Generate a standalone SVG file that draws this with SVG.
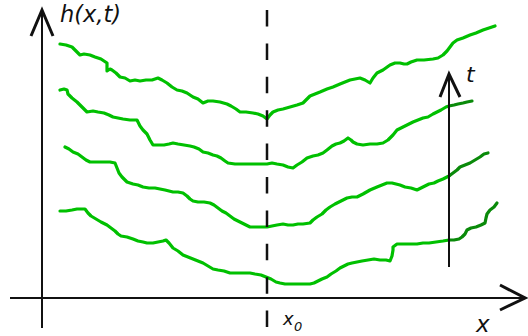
<svg xmlns="http://www.w3.org/2000/svg" width="528" height="336" viewBox="0 0 528 336">
<style>
.ax{stroke:#111;stroke-width:2;fill:none}
.ah{stroke:#111;stroke-width:3;fill:none;stroke-linecap:butt;stroke-linejoin:miter}
.cv{stroke:#00c000;stroke-width:3.2;fill:none;stroke-linejoin:round;stroke-linecap:round}
.dk{stroke:#0a8a0a;stroke-width:3.2;fill:none;stroke-linejoin:round;stroke-linecap:round}
.lb{font-family:"DejaVu Sans",Verdana,sans-serif;font-style:italic;fill:#111}
</style>
<rect width="528" height="336" fill="#fff"/>
<g id="curves">
<polyline class="cv" points="60,44 66,45 72,47 75,50 77,52 80,55 84,54 90,55 95,57 101,59 104,61 107,63 107,71 110,69 112,70 116,73 120,77 125,78 130,81 135,80 140,81 146,80 152,80 158,78 162,80 167,83 172,87 177,90 182,91 187,93 190,95 193,97 198,99 203,103 208,101 213,101 220,102 227,104 231,106 236,109 240,112 246,112 253,113 258,114 263,116 267,119 270,115 273,112 278,110 283,109 290,107 297,105 303,103 307,99 310,96 315,94 320,92 327,89 333,87 340,84 345,82 350,80 355,79 360,78 365,80 370,83 373,78 377,73 383,70 390,65 395,63 400,63 404,64 407,64 411,62 417,60 424,60 433,59 438,58 443,55 447,51 450,47 453,43 457,40 463,38 470,35 476,33 483,30 489,28 495,26"/>
<polyline class="cv" points="60,90 64,89 67,90 68,94 72,98 77,102 82,107 87,112 93,111 98,112 104,113 109,115 113,117 118,118 123,119 130,120 137,120 140,126 143,130 147,134 150,140 153,145 158,145 164,145 169,144 173,143 178,144 184,145 190,146 194,147 199,149 203,152 208,153 213,155 217,156 221,158 225,161 228,163 235,164 241,164 247,164 253,164 260,164 267,164 272,163 277,164 283,165 288,167 293,168 297,165 302,162 307,158 313,156 318,155 323,153 327,150 332,146 336,144 340,143 344,141 348,138 351,140 353,142 357,144 363,145 370,144 377,144 383,143 388,140 393,135 397,130 401,128 407,125 413,122 418,120 423,118 428,117 433,114 437,112 441,110 446,107 449,106"/>
<polyline class="dk" points="449,106 454,105 458,104 463,103 467,102 472,101"/>
<polyline class="cv" points="65,147 69,149 73,152 78,154 82,157 86,160 90,162 95,162 100,162 105,162 110,162 115,163 117,168 119,173 122,177 127,182 133,184 138,185 143,187 149,188 155,188 160,189 165,190 169,191 173,192 178,192 183,193 187,196 190,199 193,201 198,202 204,202 210,203 214,205 218,208 222,211 226,213 230,216 234,219 238,221 242,223 246,225 250,227 255,227 261,227 267,227 272,226 277,225 283,224 288,225 293,225 298,224 303,224 310,223 313,220 317,217 322,214 326,210 330,207 335,204 341,201 347,198 352,197 357,197 363,194 370,190 377,187 382,185 387,183 392,183 396,184 400,185 405,187 411,188 417,190 421,188 425,186 429,184 434,183 438,181 443,179 449,176"/>
<polyline class="dk" points="449,176 453,173 457,170 460,167 465,165 470,163 475,160 480,157 484,154 488,153"/>
<polyline class="cv" points="60,211 66,211 72,210 77,209 81,209 85,209 88,213 91,216 96,219 101,222 107,225 111,228 115,231 118,234 121,236 127,237 133,239 138,241 143,242 147,243 153,243 158,242 163,241 166,240 169,243 173,248 178,251 183,255 188,257 193,259 198,261 203,263 208,266 213,269 218,270 224,271 230,273 236,273 243,273 250,273 255,274 261,275 266,277 271,279 276,282 280,283 285,284 291,284 297,284 303,284 310,284 314,283 318,281 322,279 327,277 331,274 336,271 340,268 344,266 348,264 352,263 357,262 362,261 368,260 374,259 380,260 386,260 390,261 392,256 393,250 393,247 397,244 403,244 410,244 417,244 423,243 429,243 436,242 443,241 449,240"/>
<polyline class="dk" points="449,240 454,240 459,239 462,237 465,234 467,230 471,228 476,227 481,225 485,223 486,218 487,214 490,210 494,207 497,203"/>
</g>
<g id="connectors">
<line class="ax" x1="42" y1="328" x2="42" y2="10"/>
<polyline class="ah" points="31,36 42,10 53,36"/>
<line class="ax" x1="10" y1="298" x2="525" y2="298"/>
<polyline class="ah" points="500,285 525,298 500,310"/>
<line x1="267" y1="10" x2="267" y2="327" stroke="#111" stroke-width="2.5" stroke-dasharray="16.5 16.9"/>
<line class="ax" x1="449" y1="267" x2="449" y2="76"/>
<polyline class="ah" points="440,97 449,74 460,97"/>
</g>
<g id="labels">
<text class="lb" x="60" y="22" font-size="22.5">h(x,t)</text>
<text class="lb" x="466" y="82" font-size="22">t</text>
<text class="lb" x="476" y="332" font-size="23">x</text>
<text class="lb" x="283" y="325" font-size="18">x</text>
<text class="lb" x="294" y="331" font-size="13">0</text>
</g>
</svg>
